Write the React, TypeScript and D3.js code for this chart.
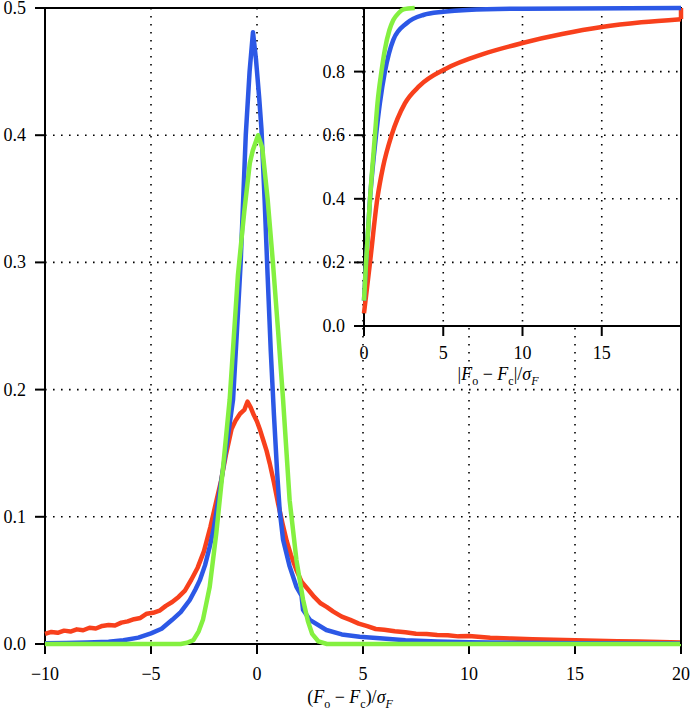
import React from 'react'
import * as d3 from 'd3'

// main panel: density of (Fo - Fc)/sigmaF
const redPdf: [number, number][] = [
  [-10, 0.008], [-9.7, 0.0095], [-9.4, 0.0088], [-9.1, 0.0105], [-8.8, 0.0098], [-8.5, 0.0115],
  [-8.2, 0.0108], [-7.9, 0.0128], [-7.6, 0.0122], [-7.3, 0.0142], [-7.0, 0.015], [-6.7, 0.0145],
  [-6.4, 0.0168], [-6.1, 0.0178], [-5.8, 0.0195], [-5.5, 0.0205], [-5.2, 0.0238], [-4.9, 0.0245],
  [-4.6, 0.0262], [-4.3, 0.03], [-4.0, 0.033], [-3.7, 0.037], [-3.4, 0.042], [-3.1, 0.0505],
  [-2.8, 0.06], [-2.5, 0.073], [-2.2, 0.092], [-1.95, 0.11], [-1.7, 0.128], [-1.45, 0.15],
  [-1.2, 0.169], [-1.0, 0.176], [-0.8, 0.181], [-0.6, 0.184], [-0.45, 0.1905], [-0.3, 0.186],
  [-0.15, 0.18], [0.0, 0.175], [0.15, 0.168], [0.3, 0.16], [0.45, 0.152], [0.6, 0.142],
  [0.8, 0.127], [1.0, 0.11], [1.2, 0.095], [1.4, 0.081], [1.6, 0.07], [1.85, 0.0585],
  [2.1, 0.049], [2.4, 0.043], [2.7, 0.037], [3.0, 0.032], [3.3, 0.029], [3.6, 0.0255],
  [4.0, 0.0215], [4.4, 0.019], [4.8, 0.016], [5.2, 0.014], [5.6, 0.0118], [6.0, 0.0112],
  [6.5, 0.01], [7.0, 0.0092], [7.5, 0.008], [8.0, 0.0078], [8.5, 0.007], [9.0, 0.0068],
  [9.5, 0.006], [10, 0.0062], [11, 0.005], [12, 0.0043], [13, 0.0038], [14, 0.0034],
  [15, 0.003], [16, 0.0026], [17, 0.0022], [18, 0.0019], [19, 0.0016], [20, 0.0012]
]

const bluePdf: [number, number][] = [
  [-10, 0.0005], [-9, 0.0008], [-8, 0.0012], [-7, 0.0018], [-6.3, 0.003], [-5.6, 0.005],
  [-5, 0.0084], [-4.5, 0.012], [-4, 0.019], [-3.6, 0.025], [-3.17, 0.0346], [-2.9, 0.043],
  [-2.7, 0.05], [-2.45, 0.062], [-2.23, 0.0765], [-2.05, 0.09], [-1.92, 0.103], [-1.68, 0.129],
  [-1.4, 0.16], [-1.13, 0.192], [-0.95, 0.245], [-0.77, 0.3], [-0.53, 0.4], [-0.35, 0.45],
  [-0.19, 0.481], [-0.05, 0.46], [0.1, 0.43], [0.21, 0.405], [0.36, 0.349], [0.5, 0.29],
  [0.65, 0.23], [0.8, 0.18], [0.95, 0.135], [1.07, 0.105], [1.23, 0.082], [1.54, 0.061],
  [1.86, 0.045], [2.1, 0.038], [2.17, 0.027], [2.49, 0.019], [3.27, 0.011], [4.0, 0.0075],
  [4.84, 0.0057], [5.79, 0.0045], [7, 0.003], [8.5, 0.002], [10, 0.0013], [12, 0.0009],
  [15, 0.0006], [20, 0.0003]
]

const greenPdf: [number, number][] = [
  [-10, 0], [-3.6, 0], [-3.3, 0.001], [-3.0, 0.003], [-2.75, 0.01], [-2.55, 0.019],
  [-2.23, 0.045], [-1.92, 0.087], [-1.6, 0.139], [-1.29, 0.192], [-0.9, 0.29], [-0.6, 0.34],
  [-0.34, 0.378], [-0.2, 0.388], [0.05, 0.4], [0.25, 0.39], [0.5, 0.35], [0.75, 0.3],
  [1.0, 0.245], [1.23, 0.192], [1.54, 0.113], [1.86, 0.066], [2.17, 0.035], [2.4, 0.018],
  [2.6, 0.008], [2.9, 0.002], [3.3, 0], [20, 0]
]

// inset: cumulative of |Fo - Fc|/sigmaF
const redCdf: [number, number][] = [
  [0, 0.04], [0.38, 0.2], [0.84, 0.4], [1.2, 0.5], [1.74, 0.6], [2.58, 0.7], [3.5, 0.755],
  [5.2, 0.81], [7.5, 0.855], [10, 0.89], [12.5, 0.918], [15, 0.94], [17.5, 0.955], [20, 0.965]
]
const redCdfEnd: [number, number][] = [[20, 0.965], [20, 1.0]]
const blueCdf: [number, number][] = [
  [0, 0.08], [0.13, 0.2], [0.38, 0.4], [0.76, 0.6], [1.0, 0.7], [1.32, 0.8], [1.85, 0.9],
  [2.69, 0.952], [3.74, 0.978], [5, 0.988], [6.5, 0.994], [10, 0.998], [20, 1.0]
]
const greenCdf: [number, number][] = [
  [0, 0.08], [0.13, 0.2], [0.38, 0.4], [0.69, 0.6], [0.85, 0.7], [1.1, 0.8], [1.32, 0.87],
  [1.6, 0.93], [1.85, 0.962], [2.2, 0.985], [2.5, 0.996], [3.2, 1.0]
]

const mainXTicks = [-10, -5, 0, 5, 10, 15, 20]
const mainYTicks = [0, 0.1, 0.2, 0.3, 0.4, 0.5]
const insetXTicks = [0, 5, 10, 15]
const insetYTicks = [0, 0.2, 0.4, 0.6, 0.8]

const RED = '#f8401c'
const BLUE = '#2c58e6'
const GREEN = '#84f040'
const FONT = "'Liberation Serif', 'DejaVu Serif', serif"

const App = () => {
  const W = 692
  const H = 712
  const left = 45, right = 681, top = 8, bottom = 644
  const x = d3.scaleLinear().domain([-10, 20]).range([left, right])
  const y = d3.scaleLinear().domain([0, 0.5]).range([bottom, top])

  const iLeft = 364, iBottom = 326
  const ix = d3.scaleLinear().domain([0, 20]).range([iLeft, right])
  const iy = d3.scaleLinear().domain([0, 1]).range([iBottom, top])

  const line = d3.line<[number, number]>().x(d => x(d[0])).y(d => y(d[1]))
  const iline = d3.line<[number, number]>().x(d => ix(d[0])).y(d => iy(d[1])).curve(d3.curveMonotoneX)
  const iseg = d3.line<[number, number]>().x(d => ix(d[0])).y(d => iy(d[1]))

  const dot = { stroke: '#000', strokeWidth: 1.6, strokeDasharray: '1.6,6.4', fill: 'none' }
  const curve = { fill: 'none', strokeWidth: 4.5, strokeLinejoin: 'round' as const }
  const txt = { fontSize: 18, fontFamily: FONT }

  return (
    <svg width={W} height={H} style={{ position: 'absolute', left: 0, top: 0, background: '#fff' }}>
      {/* main grid */}
      {mainXTicks.slice(1, -1).map(t => (
        <line key={'gx' + t} x1={x(t)} x2={x(t)} y1={top} y2={bottom} {...dot} />
      ))}
      {mainYTicks.slice(1, -1).map(t => (
        <line key={'gy' + t} x1={left} x2={right} y1={y(t)} y2={y(t)} {...dot} />
      ))}

      {/* main frame + ticks */}
      <path d={`M${left},${top}V${bottom}H${right}V${top}H${left}`} fill="none" stroke="#000" strokeWidth={2} />
      {mainYTicks.map(t => (
        <g key={'yt' + t}>
          <line x1={left - 10} x2={left} y1={y(t)} y2={y(t)} stroke="#000" strokeWidth={2} />
          <text x={26} y={y(t) + 6} textAnchor="end" {...txt}>{t.toFixed(1)}</text>
        </g>
      ))}
      {mainXTicks.map(t => (
        <g key={'xt' + t}>
          <line x1={x(t)} x2={x(t)} y1={bottom} y2={bottom + 10} stroke="#000" strokeWidth={2} />
          <text x={x(t)} y={680} textAnchor="middle" {...txt}>{t < 0 ? '\u2212' + Math.abs(t) : t}</text>
        </g>
      ))}

      {/* main curves */}
      <path d={line(redPdf) || ''} stroke={RED} {...curve} />
      <path d={line(bluePdf) || ''} stroke={BLUE} {...curve} />
      <path d={line(greenPdf) || ''} stroke={GREEN} {...curve} />

      <text x={350} y={703} textAnchor="middle" {...txt}>
        (<tspan fontStyle="italic">F</tspan><tspan fontSize={12} dy={5}>o</tspan>
        <tspan dy={-5}> {'\u2212'} </tspan><tspan fontStyle="italic">F</tspan><tspan fontSize={12} dy={5}>c</tspan>
        <tspan dy={-5}>)/</tspan><tspan fontStyle="italic">σ</tspan><tspan fontSize={12} fontStyle="italic" dy={5}>F</tspan>
      </text>

      {/* inset */}
      <rect x={iLeft} y={top} width={right - iLeft} height={iBottom - top} fill="#fff" />
      {insetXTicks.slice(1).map(t => (
        <line key={'igx' + t} x1={ix(t)} x2={ix(t)} y1={top} y2={iBottom} {...dot} />
      ))}
      {insetYTicks.slice(1).map(t => (
        <line key={'igy' + t} x1={iLeft} x2={right} y1={iy(t)} y2={iy(t)} {...dot} />
      ))}
      <path d={`M${iLeft},${top}V${iBottom}H${right}`} fill="none" stroke="#000" strokeWidth={2} />
      <line x1={iLeft} x2={right} y1={top} y2={top} stroke="#000" strokeWidth={2} />
      <line x1={right} x2={right} y1={top} y2={bottom} stroke="#000" strokeWidth={2} />
      {insetYTicks.map(t => (
        <g key={'iyt' + t}>
          <line x1={iLeft - 10} x2={iLeft} y1={iy(t)} y2={iy(t)} stroke="#000" strokeWidth={2} />
          <text x={345} y={iy(t) + 6} textAnchor="end" {...txt}>{t.toFixed(1)}</text>
        </g>
      ))}
      {insetXTicks.map(t => (
        <g key={'ixt' + t}>
          <line x1={ix(t)} x2={ix(t)} y1={iBottom} y2={iBottom + 10} stroke="#000" strokeWidth={2} />
          <text x={ix(t)} y={359} textAnchor="middle" {...txt}>{t}</text>
        </g>
      ))}
      <path d={iline(redCdf) || ''} stroke={RED} {...curve} />
      <path d={iseg(redCdfEnd) || ''} stroke={RED} {...curve} />
      <path d={iline(blueCdf) || ''} stroke={BLUE} {...curve} />
      <path d={iline(greenCdf) || ''} stroke={GREEN} {...curve} />

      <text x={498} y={380} textAnchor="middle" {...txt}>
        |<tspan fontStyle="italic">F</tspan><tspan fontSize={12} dy={5}>o</tspan>
        <tspan dy={-5}> {'\u2212'} </tspan><tspan fontStyle="italic">F</tspan><tspan fontSize={12} dy={5}>c</tspan>
        <tspan dy={-5}>|/</tspan><tspan fontStyle="italic">σ</tspan><tspan fontSize={12} fontStyle="italic" dy={5}>F</tspan>
      </text>
    </svg>
  )
}

export default App
